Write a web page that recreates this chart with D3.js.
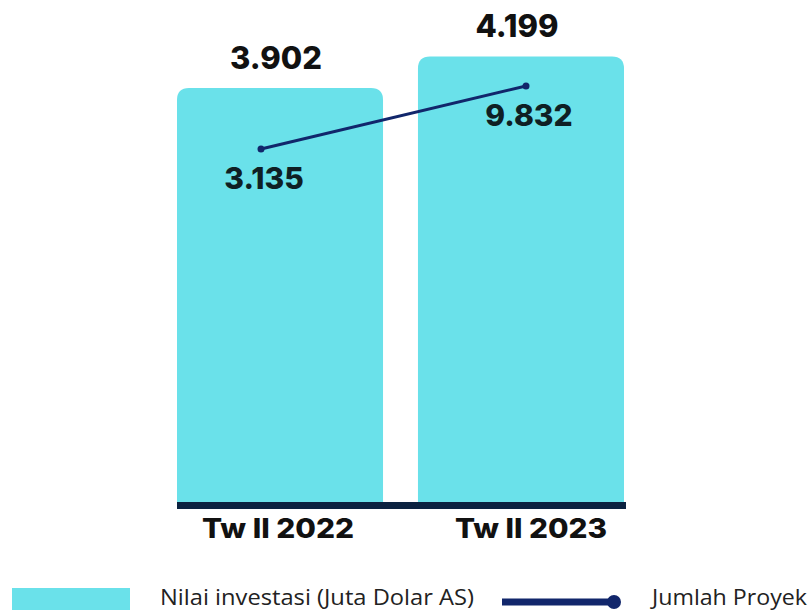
<!DOCTYPE html>
<html>
<head>
<meta charset="utf-8">
<script src="https://cdn.jsdelivr.net/npm/d3@7"></script>
<style>
  html, body { margin: 0; padding: 0; background: #ffffff; }
  svg { display: block; }
</style>
</head>
<body>
<svg id="chart" width="811" height="610"></svg>
<script>
// Quarterly investment (bars) and number of projects (line)
const periods = ["Tw II 2022", "Tw II 2023"];
const investValues = [3902, 4199];      // Nilai investasi (Juta Dolar AS)
const projectValues = [3135, 9832];     // Jumlah Proyek
const investLabels = ["3.902", "4.199"];
const projectLabels = ["3.135", "9.832"];
const legendLabels = ["Nilai investasi (Juta Dolar AS)", "Jumlah Proyek"];

const barColor = "#6ae1ea";
const lineColor = "#11266b";
const axisColor = "#0b2240";
const valueFont = "Inter, Roboto, 'DejaVu Sans', sans-serif";
const legendFont = "'Open Sans', 'Noto Sans', sans-serif";

const svg = d3.select("#chart");

const x = d3.scaleBand().domain(periods).range([177, 624]).paddingInner(0.145).paddingOuter(0);
const y = d3.scaleLinear().domain([0, 3902]).range([502, 88]);

// category label positions under the baseline
const xLabel = d3.scalePoint().domain(periods).range([278, 531]);

// secondary scales for the project line
const xLine = d3.scalePoint().domain(periods).range([261, 526]);
const yLine = d3.scaleLinear().domain([0, 10000]).range([178.5, 84.4]);

// bars with rounded top corners
const r = 12;
function topRounded(x0, y0, w, h) {
  return `M${x0},${y0 + h}V${y0 + r}Q${x0},${y0} ${x0 + r},${y0}H${x0 + w - r}Q${x0 + w},${y0} ${x0 + w},${y0 + r}V${y0 + h}Z`;
}
svg.append("g").selectAll("path")
  .data(periods)
  .join("path")
  .attr("d", (d, i) => topRounded(x(d), y(investValues[i]), x.bandwidth(), y(0) - y(investValues[i])))
  .attr("fill", barColor);

// baseline
svg.append("line")
  .attr("x1", 177).attr("x2", 626)
  .attr("y1", y(0) + 3.5).attr("y2", y(0) + 3.5)
  .attr("stroke", axisColor).attr("stroke-width", 7);

// category labels
svg.append("g").selectAll("text")
  .data(periods)
  .join("text")
  .attr("x", d => xLabel(d))
  .attr("y", 538)
  .attr("text-anchor", "middle")
  .attr("font-family", valueFont)
  .attr("font-weight", 800)
  .attr("font-size", 27)
  .attr("textLength", 152)
  .attr("lengthAdjust", "spacingAndGlyphs")
  .attr("fill", "#111")
  .text(d => d);

// investment value labels
svg.append("g").selectAll("text")
  .data(periods)
  .join("text")
  .attr("x", d => x(d) + x.bandwidth() / 2 - 4)
  .attr("y", (d, i) => y(investValues[i]) - 19)
  .attr("text-anchor", "middle")
  .attr("font-family", valueFont)
  .attr("font-weight", 800)
  .attr("font-size", 31)
  .attr("fill", "#111")
  .text((d, i) => investLabels[i]);

// project line
const line = d3.line().x((d, i) => xLine(periods[i])).y(d => yLine(d));
svg.append("path")
  .datum(projectValues)
  .attr("d", line)
  .attr("fill", "none")
  .attr("stroke", lineColor)
  .attr("stroke-width", 3);
svg.append("g").selectAll("circle")
  .data(projectValues)
  .join("circle")
  .attr("cx", (d, i) => xLine(periods[i]))
  .attr("cy", d => yLine(d))
  .attr("r", 3.5)
  .attr("fill", lineColor);

svg.append("g").selectAll("text")
  .data(projectValues)
  .join("text")
  .attr("x", (d, i) => xLine(periods[i]) + 3)
  .attr("y", d => yLine(d) + 40)
  .attr("text-anchor", "middle")
  .attr("font-family", valueFont)
  .attr("font-weight", 800)
  .attr("font-size", 30)
  .attr("fill", "#0f1f24")
  .text((d, i) => projectLabels[i]);

// legend
const legend = svg.append("g");
legend.append("rect")
  .attr("x", 12).attr("y", 588).attr("width", 118).attr("height", 24)
  .attr("fill", barColor);
legend.append("text")
  .attr("x", 160).attr("y", 605)
  .attr("font-family", legendFont)
  .attr("font-size", 22)
  .attr("textLength", 314)
  .attr("lengthAdjust", "spacingAndGlyphs")
  .attr("fill", "#222")
  .text(legendLabels[0]);
legend.append("line")
  .attr("x1", 502).attr("x2", 614).attr("y1", 602).attr("y2", 602)
  .attr("stroke", lineColor).attr("stroke-width", 7);
legend.append("circle")
  .attr("cx", 614).attr("cy", 602).attr("r", 7)
  .attr("fill", lineColor);
legend.append("text")
  .attr("x", 652).attr("y", 605)
  .attr("font-family", legendFont)
  .attr("font-size", 22)
  .attr("textLength", 155)
  .attr("lengthAdjust", "spacingAndGlyphs")
  .attr("fill", "#222")
  .text(legendLabels[1]);
</script>
</body>
</html>
